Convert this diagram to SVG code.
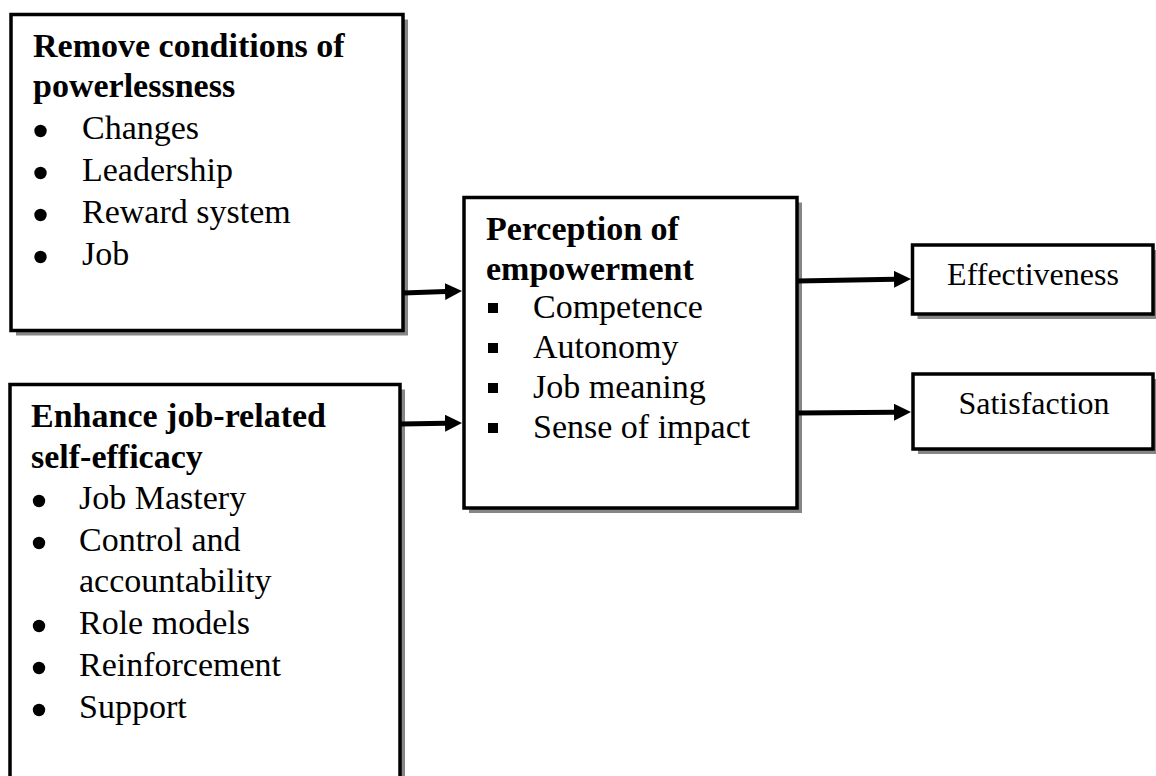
<svg xmlns="http://www.w3.org/2000/svg" width="1156" height="776" viewBox="0 0 1156 776">
<style>
.box{fill:#fff;stroke:#000;stroke-width:3.5}
.shadow{fill:#868686}
.t{font-family:"Liberation Serif","Times New Roman",serif;font-size:34px;fill:#000}
.b{font-weight:bold}
.s{font-size:32px}
.dot{fill:#000}
.conn{stroke:#000;stroke-width:5;fill:none}
</style>
<defs>
<marker id="ah" markerUnits="userSpaceOnUse" markerWidth="18" markerHeight="18" refX="1" refY="8.5" orient="auto">
<path d="M0,0 L17,8.5 L0,17 z" fill="#000"/>
</marker>
</defs>
<rect width="1156" height="776" fill="#fff"/>
<g id="remove-powerlessness">
<rect class="shadow" x="16" y="19.5" width="392" height="316"/>
<rect class="box" x="11" y="14.5" width="392" height="316"/>
<text class="t b" x="33" y="57">Remove conditions of</text>
<text class="t b" x="33" y="97">powerlessness</text>
<circle class="dot" cx="40.5" cy="131" r="6.2"/>
<text class="t" x="82" y="139">Changes</text>
<circle class="dot" cx="40.5" cy="173" r="6.2"/>
<text class="t" x="82" y="181">Leadership</text>
<circle class="dot" cx="40.5" cy="215" r="6.2"/>
<text class="t" x="82" y="223">Reward system</text>
<circle class="dot" cx="40.5" cy="257" r="6.2"/>
<text class="t" x="82" y="265">Job</text>
</g>
<g id="enhance-self-efficacy">
<rect class="shadow" x="15" y="389.5" width="390" height="420"/>
<rect class="box" x="10" y="384.5" width="390" height="420"/>
<text class="t b" x="31" y="427">Enhance job-related</text>
<text class="t b" x="31" y="468">self-efficacy</text>
<circle class="dot" cx="39" cy="501" r="6.2"/>
<text class="t" x="79" y="509">Job Mastery</text>
<circle class="dot" cx="39" cy="543" r="6.2"/>
<text class="t" x="79" y="551">Control and</text>
<text class="t" x="79" y="592">accountability</text>
<circle class="dot" cx="39" cy="626" r="6.2"/>
<text class="t" x="79" y="634">Role models</text>
<circle class="dot" cx="39" cy="668" r="6.2"/>
<text class="t" x="79" y="676">Reinforcement</text>
<circle class="dot" cx="39" cy="710" r="6.2"/>
<text class="t" x="79" y="718">Support</text>
</g>
<g id="perception-empowerment">
<rect class="shadow" x="469" y="202.5" width="333" height="310.5"/>
<rect class="box" x="464" y="197.5" width="333" height="310.5"/>
<text class="t b" x="486" y="240">Perception of</text>
<text class="t b" x="486" y="280">empowerment</text>
<rect class="dot" x="488" y="303" width="10" height="10"/>
<text class="t" x="533" y="318">Competence</text>
<rect class="dot" x="488" y="343" width="10" height="10"/>
<text class="t" x="533" y="358">Autonomy</text>
<rect class="dot" x="488" y="383" width="10" height="10"/>
<text class="t" x="533" y="398">Job meaning</text>
<rect class="dot" x="488" y="423" width="10" height="10"/>
<text class="t" x="533" y="438">Sense of impact</text>
</g>
<g id="effectiveness">
<rect class="shadow" x="917.5" y="250" width="240.5" height="69"/>
<rect class="box" x="912.5" y="245" width="240.5" height="69"/>
<text class="t s" x="1033" y="285" text-anchor="middle">Effectiveness</text>
</g>
<g id="satisfaction">
<rect class="shadow" x="918" y="379" width="240" height="75"/>
<rect class="box" x="913" y="374" width="240" height="75"/>
<text class="t s" x="1034" y="414" text-anchor="middle">Satisfaction</text>
</g>
<g id="connectors">
<path class="conn" d="M403,293 L446,291.5" marker-end="url(#ah)"/>
<path class="conn" d="M401,424 L446,423.2" marker-end="url(#ah)"/>
<path class="conn" d="M797,281 L895,279.3" marker-end="url(#ah)"/>
<path class="conn" d="M797,413 L895,412.2" marker-end="url(#ah)"/>
</g>
</svg>
